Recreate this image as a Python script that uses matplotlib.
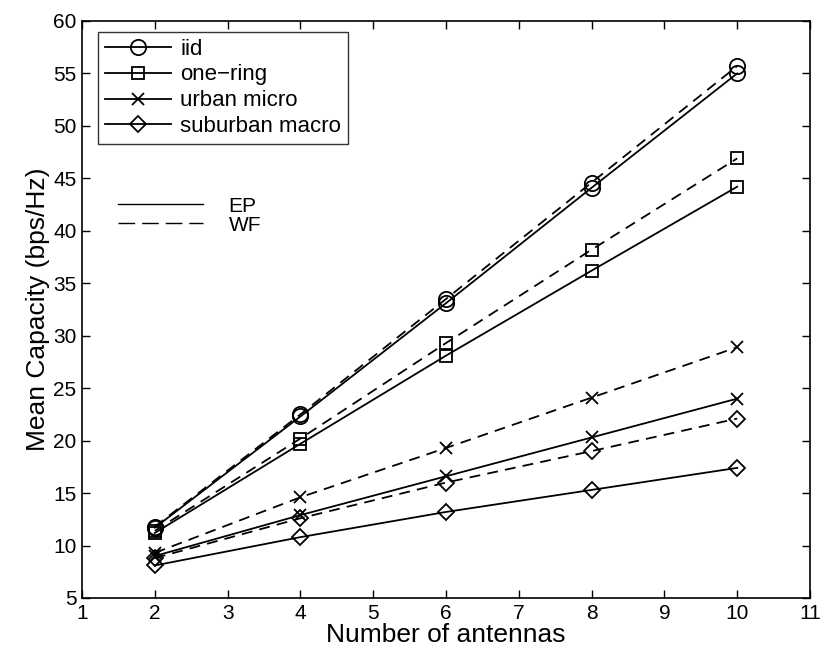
#!/usr/bin/env python
# -*- coding: utf-8 -*

import matplotlib
matplotlib.use("Agg")
import matplotlib.pyplot as plt
from matplotlib.lines import Line2D

plt.rcParams["font.family"] = ["Liberation Sans", "DejaVu Sans"]

antennas = [2, 4, 6, 8, 10]

names = ["iid", "one\u2212ring", "urban micro", "suburban macro"]
markers = ["o", "s", "x", "D"]
msizes = [11, 9, 8, 8]

cap_ep = {
    "iid": [11.7, 22.3, 33.1, 44.1, 55.0],
    "one-ring": [11.2, 19.7, 28.1, 36.2, 44.2],
    "urban micro": [9.0, 12.9, 16.6, 20.3, 24.0],
    "suburban macro": [8.1, 10.8, 13.2, 15.3, 17.4],
}
cap_wf = {
    "iid": [11.8, 22.5, 33.5, 44.6, 55.7],
    "one-ring": [11.4, 20.2, 29.3, 38.2, 46.9],
    "urban micro": [9.3, 14.6, 19.3, 24.1, 28.9],
    "suburban macro": [8.8, 12.6, 16.0, 19.0, 22.1],
}


def plot_capacity(out_file="out.png"):
    fig = plt.figure(figsize=(8.22, 6.59), dpi=100)
    ax = fig.add_axes([0.0998, 0.0926, 0.8856, 0.8756])

    handles = []
    for key, label, m, ms in zip(cap_ep.keys(), names, markers, msizes):
        h, = ax.plot(antennas, cap_ep[key], color="k", linestyle="-", linewidth=1.3,
                     marker=m, markersize=ms, markerfacecolor="none",
                     markeredgecolor="k", markeredgewidth=1.3, label=label)
        ax.plot(antennas, cap_wf[key], color="k", linestyle=(0, (6, 4)), linewidth=1.3,
                marker=m, markersize=ms, markerfacecolor="none",
                markeredgecolor="k", markeredgewidth=1.3)
        handles.append(h)

    leg = ax.legend(handles=handles, loc="upper left", bbox_to_anchor=(0.022, 0.981),
                    fontsize=16, frameon=True, fancybox=False, edgecolor="k",
                    handlelength=3.0, borderpad=0.3, labelspacing=0.22,
                    handletextpad=0.4, borderaxespad=0)
    leg.get_frame().set_linewidth(1.0)
    ax.add_artist(leg)

    # line style key (no frame)
    ep_wf = [Line2D([], [], color="k", linestyle="-", linewidth=1.0),
             Line2D([], [], color="k", linestyle=(0, (12, 5)), linewidth=1.0)]
    ax.legend(handles=ep_wf, labels=["EP", "WF"], loc="upper left",
              bbox_to_anchor=(0.038, 0.71), fontsize=15, frameon=False,
              handlelength=4.1, labelspacing=0.0, handletextpad=1.2,
              borderaxespad=0)

    ax.set_xlim(1, 11)
    ax.set_ylim(5, 60)
    ax.set_xticks(range(1, 12))
    ax.set_yticks(range(5, 61, 5))
    ax.tick_params(direction="in", top=True, right=True, labelsize=15,
                   length=6, width=1.0, pad=4)
    for s in ax.spines.values():
        s.set_linewidth(1.2)
    ax.set_xlabel("Number of antennas", fontsize=19, labelpad=0)
    ax.set_ylabel("Mean Capacity (bps/Hz)", fontsize=19, labelpad=2)

    fig.savefig(out_file, dpi=100)


if __name__ == "__main__":
    plot_capacity()
